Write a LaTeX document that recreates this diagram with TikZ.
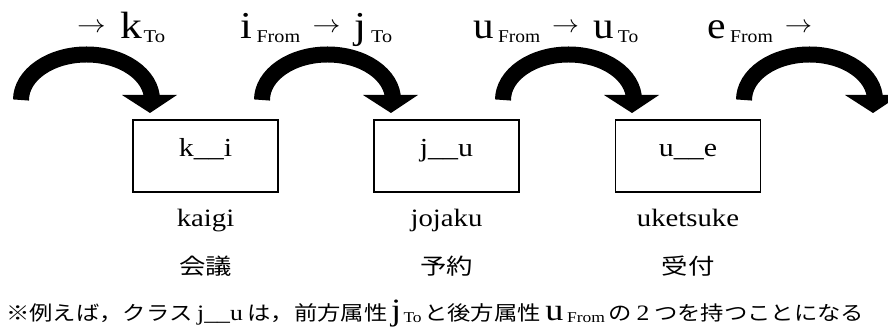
\documentclass[tikz,border=0pt]{standalone}
\usepackage{fontspec}
\setmainfont{Liberation Serif}
\newfontfamily\jp{Noto Sans CJK JP}
\newcommand{\myBig}[1]{{\fontsize{38}{38}\selectfont #1}}
\newcommand{\mySub}[1]{\raisebox{-4pt}{\fontsize{18}{18}\selectfont #1}}
\newcommand{\myArr}{\raisebox{6pt}{\fontsize{24}{24}\selectfont$\rightarrow$}}
\newcommand{\myJ}[1]{{\jp\fontsize{20}{20}\selectfont #1}}
\newcommand{\myL}[1]{{\fontsize{22}{22}\selectfont #1}}
\newcommand{\myB}[1]{{\fontsize{31}{31}\selectfont #1}}
\newcommand{\myS}[1]{\raisebox{-2pt}{\fontsize{15}{15}\selectfont #1}}
\begin{document}
\begin{tikzpicture}[x=1pt,y=1pt,
  clsbox/.style={draw, line width=1.6pt, minimum width=145pt, minimum height=72pt, inner sep=0pt},
  shaft/.style={line width=16pt},
  lab/.style={inner sep=0pt, anchor=base west},
  boxtxt/.style={inner sep=0pt, anchor=base, font=\fontsize{26}{26}\selectfont},
  nametxt/.style={inner sep=0pt, anchor=base, font=\fontsize{25}{25}\selectfont},
  jptxt/.style={inner sep=0pt, font=\jp\fontsize{22}{22}\selectfont}]
\useasboundingbox (0,0) rectangle (888,331);
\clip (0,0) rectangle (888,331);

% curved arrows
\foreach \k in {0,1,2,3} {
  \coordinate (t\k) at ({21+241*\k},231);
  \coordinate (h\k) at ({150+241*\k},218);
  \draw[shaft] (t\k) arc[start angle=180,end angle=0,x radius=65.5,y radius=45.5];
  \fill (h\k) -- ++(-28,18) -- ++(55,0) -- cycle;
}

% top labels
\node[lab] (l1) at (77,292) {\resizebox{88pt}{\height}{\myArr\hspace{13pt}\myBig{k}\hspace{1pt}\mySub{To}}};
\node[lab] (l2) at (240,292) {\resizebox{152pt}{\height}{\myBig{i}\hspace{4pt}\mySub{From}\hspace{11pt}\myArr\hspace{13pt}\myBig{j}\hspace{4pt}\mySub{To}}};
\node[lab] (l3) at (473,292) {\resizebox{165pt}{\height}{\myBig{u}\hspace{4pt}\mySub{From}\hspace{11pt}\myArr\hspace{13pt}\myBig{u}\hspace{4pt}\mySub{To}}};
\node[lab] (l4) at (707,292) {\resizebox{105pt}{\height}{\myBig{e}\hspace{4pt}\mySub{From}\hspace{11pt}\myArr}};

% class boxes
\node[clsbox] (b1) at (205.5,175) {};
\node[clsbox] (b2) at (446.5,175) {};
\node[clsbox] (b3) at (688,175) {};
\node[boxtxt] (b1t) at (205.5,174) {\scalebox{1.15}[1]{k\_\_i}};
\node[boxtxt] (b2t) at (446.5,174) {\scalebox{1.15}[1]{j\_\_u}};
\node[boxtxt] (b3t) at (688,174) {\scalebox{1.15}[1]{u\_\_e}};

% romaji names
\node[nametxt] (n1) at (205.5,104) {\scalebox{1.15}[1]{kaigi}};
\node[nametxt] (n2) at (446.5,104) {\scalebox{1.15}[1]{jojaku}};
\node[nametxt] (n3) at (688,104) {\scalebox{1.15}[1]{uketsuke}};

% Japanese names
\node[jptxt] (j1) at (205.5,65) {\scalebox{1.2}[1]{会議}};
\node[jptxt] (j2) at (446.5,65) {\scalebox{1.2}[1]{予約}};
\node[jptxt] (j3) at (688,65) {\scalebox{1.2}[1]{受付}};

% note
\node[lab] (note) at (6,10) {\resizebox{858pt}{\height}{\myJ{※例えば，クラス}\hspace{4pt}\myL{j\_\_u}\hspace{4pt}\myJ{は，前方属性}\hspace{3pt}\myB{j}\hspace{2pt}\myS{To}\hspace{2pt}\myJ{と後方属性}\hspace{4pt}\myB{u}\hspace{3pt}\myS{From}\hspace{3pt}\myJ{の}\hspace{4pt}\myL{2}\hspace{4pt}\myJ{つを持つことになる}}};
\end{tikzpicture}
\end{document}
